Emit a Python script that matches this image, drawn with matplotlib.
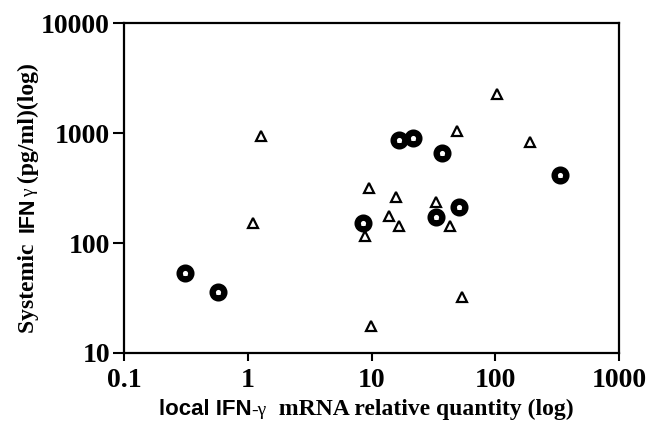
import numpy as np
import matplotlib
matplotlib.use('Agg')
import matplotlib.pyplot as plt
from matplotlib.font_manager import FontProperties

# triangles (open)
triX = [1.27, 1.10, 9.6, 15.8, 33.2, 13.9, 16.8, 43.0, 8.8, 53.6, 9.9, 48.7, 104, 191]
triY = [940, 151, 314, 264, 238, 176, 143, 143, 116, 32.5, 17.7, 1050, 2264, 828]

# circles (thick ring)
cirX = [0.311, 0.575, 8.6, 16.7, 21.5, 37.3, 33.0, 50.7, 333]
cirY = [53, 36, 153, 863, 896, 662, 171, 211, 415]

xTicks = [0.1, 1, 10, 100, 1000]
xTickLabels = ['0.1', '1', '10', '100', '1000']
yTicks = [10, 100, 1000, 10000]
yTickLabels = ['10', '100', '1000', '10000']

W, H = 647, 421
fig = plt.figure(figsize=(W/100, H/100), dpi=100)
ax = fig.add_axes([124/W, 1-353/H, 495/W, 330/H])
ax.set_xscale('log')
ax.set_yscale('log')
ax.set_xlim(0.1, 1000)
ax.set_ylim(10, 10000)

ax.plot(triX, triY, linestyle='none', marker='^', markersize=7.2,
        markerfacecolor='white', markeredgecolor='black', markeredgewidth=1.6)
ax.plot(cirX, cirY, linestyle='none', marker='o', markersize=8.4,
        markerfacecolor='white', markeredgecolor='black', markeredgewidth=4.6)
ax.plot(cirX, cirY, linestyle='none', marker='^', markersize=3.4,
        markerfacecolor='white', markeredgecolor='white', markeredgewidth=0)

ax.set_xticks(xTicks)
ax.set_xticklabels(xTickLabels)
ax.set_yticks(yTicks)
ax.set_yticklabels(yTickLabels)
ax.minorticks_off()
for lab in ax.get_xticklabels() + ax.get_yticklabels():
    lab.set_fontproperties(FontProperties(family='Liberation Serif', weight='bold', size=20))
ax.tick_params(axis='x', direction='out', length=6, width=1.5, pad=5)
ax.tick_params(axis='y', direction='out', length=8, width=1.5, pad=2)
for s in ax.spines.values():
    s.set_linewidth(1.6)

# mixed-font axis labels
fig.canvas.draw()
r = fig.canvas.get_renderer()

def hLabel(parts, cx, by):
    txts = []
    for s, fp in parts:
        txts.append(fig.text(0, by/H, s, fontproperties=fp, ha='left', va='baseline'))
    ws = [t.get_window_extent(r).width for t in txts]
    x = cx - sum(ws)/2
    for t, w in zip(txts, ws):
        t.set_x(x/W)
        x += w

def vLabel(parts, bx, cy):
    txts = []
    for s, fp in parts:
        txts.append(fig.text(bx/W, 0, s, fontproperties=fp, rotation=90,
                             ha='left', va='baseline', rotation_mode='anchor'))
    hs = [t.get_window_extent(r).height for t in txts]
    y = cy - sum(hs)/2
    for t, h in zip(txts, hs):
        t.set_y(y/H)
        y += h

hLabel([('local IFN', FontProperties(family='Liberation Sans', weight='bold', size=16)),
        ('-\u03b3', FontProperties(family='Liberation Serif', size=14)),
        ('  mRNA relative quantity (log)', FontProperties(family='Liberation Serif', weight='bold', size=17))],
       366, H-415)
vLabel([('Systemic  ', FontProperties(family='Liberation Serif', weight='bold', size=17)),
        ('IFN', FontProperties(family='Liberation Sans', weight='bold', size=15.5)),
        ('\u03b3', FontProperties(family='Liberation Serif', size=14)),
        (' (pg/ml)(log)', FontProperties(family='Liberation Serif', weight='bold', size=17))],
       34, H-198)

fig.savefig('out.png', dpi=100)
